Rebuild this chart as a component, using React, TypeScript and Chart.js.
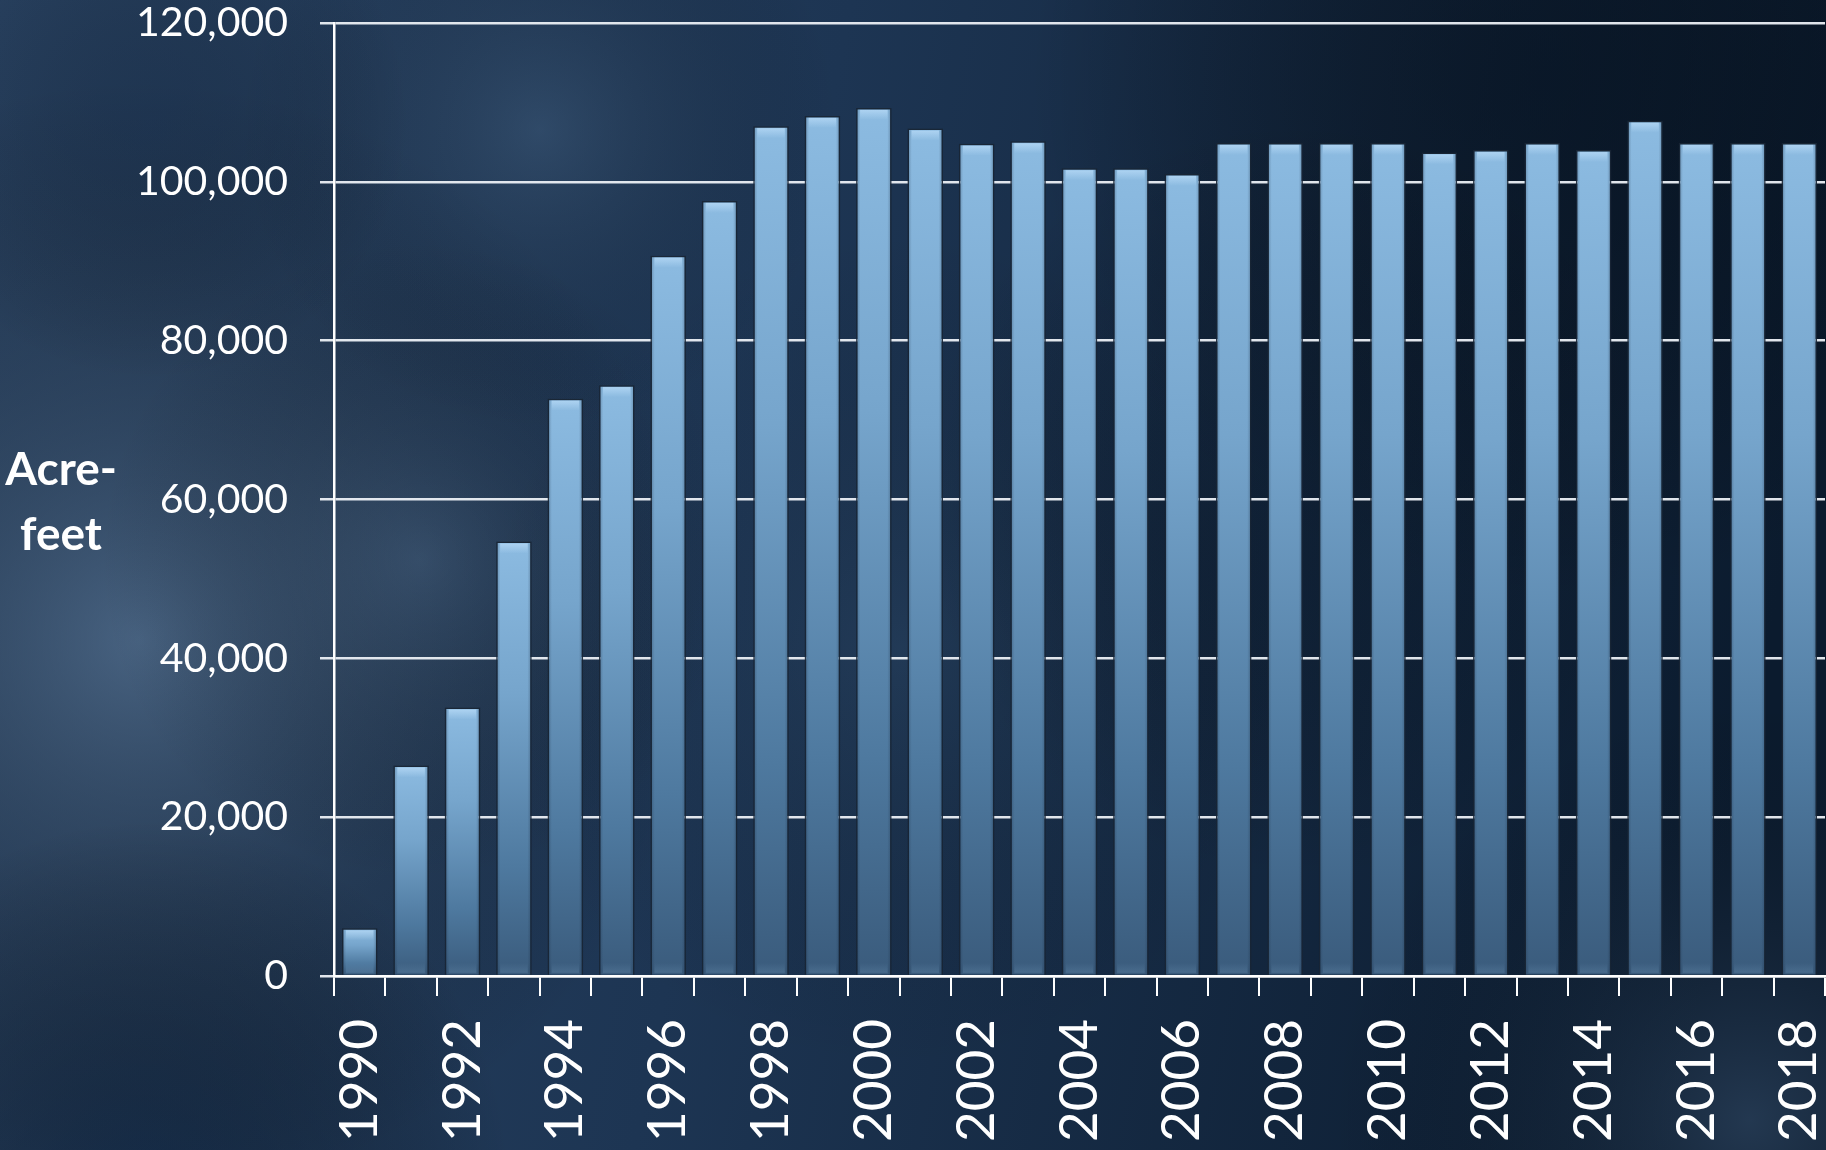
import React, { useEffect, useRef } from "react";
import { Chart, registerables } from "chart.js";

Chart.register(...registerables);

const years: string[] = [
  "1990", "1991", "1992", "1993", "1994", "1995", "1996", "1997", "1998", "1999",
  "2000", "2001", "2002", "2003", "2004", "2005", "2006", "2007", "2008", "2009",
  "2010", "2011", "2012", "2013", "2014", "2015", "2016", "2017", "2018",
];

const acreFeet: number[] = [
  6000, 26500, 33800, 54700, 72700, 74400, 90700, 97600, 107000, 108300,
  109300, 106700, 104800, 105100, 101700, 101700, 101000, 104900, 104900, 104900,
  104900, 103700, 104000, 104900, 104000, 107700, 104900, 104900, 104900,
];

const yTicks: number[] = [0, 20000, 40000, 60000, 80000, 100000, 120000];
const yTitleLines: string[] = ["Acre-", "feet"];

const backgroundPlugin = {
  id: "bgPaint",
  beforeDraw(chart: any) {
    const { ctx, width, height } = chart;
    ctx.save();
    const base = ctx.createLinearGradient(0, 0, width, height * 0.3);
    base.addColorStop(0, "#2a4464");
    base.addColorStop(0.45, "#1d3553");
    base.addColorStop(1, "#0b1b2e");
    ctx.fillStyle = base;
    ctx.fillRect(0, 0, width, height);

    const blob = (x: number, y: number, r: number, c: string) => {
      const g = ctx.createRadialGradient(x, y, 0, x, y, r);
      g.addColorStop(0, c);
      g.addColorStop(1, "rgba(0,0,0,0)");
      ctx.fillStyle = g;
      ctx.fillRect(0, 0, width, height);
    };
    blob(140, 640, 560, "rgba(100,128,158,0.55)");
    blob(420, 560, 320, "rgba(90,118,148,0.30)");
    blob(540, 130, 300, "rgba(80,110,140,0.30)");
    blob(900, 650, 420, "rgba(60,90,120,0.22)");
    blob(1550, 80, 520, "rgba(4,14,26,0.55)");
    blob(1300, 500, 380, "rgba(6,18,32,0.35)");
    blob(1750, 1120, 420, "rgba(80,110,145,0.35)");
    blob(150, 1180, 360, "rgba(10,30,55,0.55)");
    blob(150, 120, 260, "rgba(15,32,55,0.35)");
    ctx.restore();
  },
};

const barDecorPlugin = {
  id: "barDecor",
  afterDatasetsDraw(chart: any) {
    const { ctx } = chart;
    const meta = chart.getDatasetMeta(0);
    ctx.save();
    meta.data.forEach((bar: any) => {
      const half = bar.width / 2;
      const left = bar.x - half;
      const top = bar.y;
      const h = bar.base - bar.y;
      const hg = ctx.createLinearGradient(0, top + 2, 0, top + 12);
      hg.addColorStop(0, "rgba(200,230,255,0.55)");
      hg.addColorStop(1, "rgba(200,230,255,0)");
      ctx.fillStyle = hg;
      ctx.fillRect(left + 4, top + 2, bar.width - 8, Math.min(10, h - 4));
      const sg = ctx.createLinearGradient(left, 0, left + bar.width, 0);
      sg.addColorStop(0, "rgba(20,35,55,0.30)");
      sg.addColorStop(0.12, "rgba(20,35,55,0)");
      sg.addColorStop(0.88, "rgba(20,35,55,0)");
      sg.addColorStop(1, "rgba(20,35,55,0.30)");
      ctx.fillStyle = sg;
      ctx.fillRect(left, top, bar.width, h);
      const bg = ctx.createLinearGradient(0, bar.base - 12, 0, bar.base);
      bg.addColorStop(0, "rgba(140,180,215,0)");
      bg.addColorStop(1, "rgba(140,180,215,0.22)");
      ctx.fillStyle = bg;
      ctx.fillRect(left + 4, bar.base - 12, bar.width - 8, 10);
    });
    ctx.restore();
  },
};

const titlePlugin = {
  id: "sideTitle",
  afterDraw(chart: any) {
    const { ctx } = chart;
    ctx.save();
    ctx.fillStyle = "#ffffff";
    ctx.font = "bold 46px Lato";
    ctx.textAlign = "center";
    ctx.textBaseline = "alphabetic";
    const cy = (chart.chartArea.top + chart.chartArea.bottom) / 2;
    yTitleLines.forEach((line, i) => {
      ctx.fillText(line, 61, cy + 18 + (i - 0.5) * 65);
    });
    ctx.restore();
  },
};

export default function App() {
  const ref = useRef<HTMLCanvasElement | null>(null);

  useEffect(() => {
    document.body.style.margin = "0";
    const canvas = ref.current;
    if (!canvas) return;
    const chart = new Chart(canvas, {
      type: "bar",
      data: {
        labels: years,
        datasets: [
          {
            data: acreFeet,
            backgroundColor: (context: any) => {
              const c = context.chart;
              const ys = c.scales && c.scales.y;
              if (!ys || context.parsed == null) return "#6f9ec6";
              const top = ys.getPixelForValue(context.parsed.y);
              const base = ys.getPixelForValue(0);
              if (!isFinite(top) || !isFinite(base) || base - top < 1) return "#6f9ec6";
              const g = c.ctx.createLinearGradient(0, top, 0, base);
              g.addColorStop(0, "#8cbbe1");
              g.addColorStop(0.35, "#76a5cc");
              g.addColorStop(0.75, "#4e799f");
              g.addColorStop(1, "#3a5b7c");
              return g;
            },
            borderColor: "rgba(25,38,52,0.9)",
            borderWidth: 1.5,
            borderSkipped: "bottom",
            barPercentage: 0.69,
            categoryPercentage: 1,
          },
        ],
      },
      options: {
        animation: false,
        responsive: false,
        devicePixelRatio: 1,
        layout: { padding: { top: 23, right: 1, left: 0, bottom: 0 } },
        plugins: {
          legend: { display: false },
          tooltip: { enabled: false },
          title: { display: false },
        },
        scales: {
          x: {
            type: "category",
            z: 1,
            offset: true,
            grid: {
              offset: true,
              drawOnChartArea: false,
              drawTicks: true,
              tickLength: 20,
              color: "#ffffff",
              lineWidth: 2,
            },
            border: { display: true, color: "#ffffff", width: 2.5 },
            ticks: {
              autoSkip: false,
              minRotation: 90,
              maxRotation: 90,
              padding: 23,
              color: "#ffffff",
              font: { family: "Lato", size: 53 },
              callback: (_v: any, i: number) => (i % 2 === 0 ? years[i] : ""),
            },
            afterFit: (scale: any) => {
              scale.height = 174;
              scale.paddingLeft = 0;
              scale.paddingRight = 0;
            },
          },
          y: {
            type: "linear",
            min: 0,
            max: 120000,
            afterBuildTicks: (scale: any) => {
              scale.ticks = yTicks.map((v) => ({ value: v }));
            },
            grid: {
              color: "rgba(236,240,245,0.95)",
              lineWidth: 2.5,
              tickLength: 14,
              drawTicks: true,
            },
            border: { display: true, color: "#ffffff", width: 2.5 },
            ticks: {
              padding: 32,
              color: "#ffffff",
              font: { family: "Lato", size: 41 },
              callback: (v: any) => Number(v).toLocaleString("en-US"),
            },
            afterFit: (scale: any) => {
              scale.width = 334;
              scale.paddingTop = 0;
              scale.paddingBottom = 0;
            },
          },
        },
      },
      plugins: [backgroundPlugin, barDecorPlugin, titlePlugin],
    } as any);
    return () => chart.destroy();
  }, []);

  return (
    <div style={{ position: "absolute", left: 0, top: 0, width: 1826, height: 1150 }}>
      <canvas ref={ref} width={1826} height={1150} style={{ display: "block" }} />
    </div>
  );
}
